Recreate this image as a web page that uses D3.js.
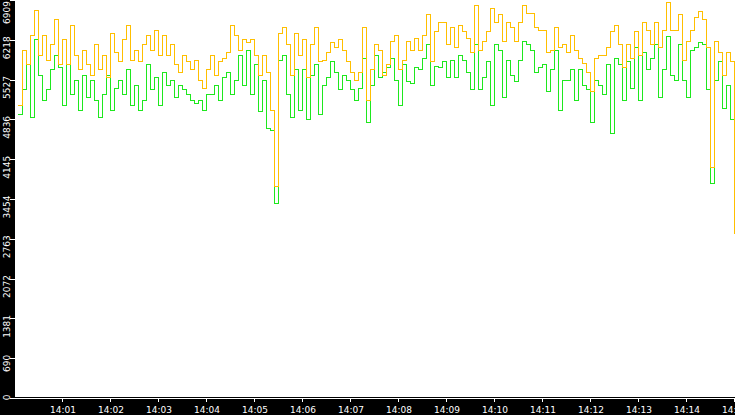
<!DOCTYPE html>
<html>
<head>
<meta charset="utf-8">
<script src="https://cdn.jsdelivr.net/npm/d3@7"></script>
<style>
  html, body { margin: 0; padding: 0; background: #000; overflow: hidden; }
  svg { display: block; }
  .lbl { font-family: "DejaVu Sans", sans-serif; font-size: 9px; fill: #fff; }
</style>
</head>
<body>
<svg id="chart"></svg>
<script>
// samples every 5 s starting 14:00:04
const startTime = '2024-01-01T14:00:04';
const stepSeconds = 5;

const orangeValues = [
  5086, 6041, 5781, 6301, 6735, 5954, 6301, 5867, 6128, 6562,
  5781, 6215, 5781, 6475, 5954, 5694, 6041, 5781, 5607, 6128,
  5694, 5954, 5555, 6336, 6006, 5833, 6215, 6475, 5867, 6041,
  5833, 6128, 6301, 6041, 6388, 5954, 6301, 5954, 6128, 5781,
  5659, 5954, 5833, 5694, 5867, 5520, 5381, 5694, 5954, 5607,
  5833, 5902, 6006, 6475, 6301, 6041, 6215, 6163, 6215, 5954,
  5607, 5954, 5659, 4999, 3663, 6336, 6440, 6128, 5607, 6336,
  5954, 6215, 5555, 6128, 6423, 5833, 5867, 6006, 6163, 6076,
  6215, 6041, 5833, 5659, 5520, 5659, 6423, 5173, 5694, 6128,
  6041, 5607, 5781, 6180, 6301, 5694, 5867, 6180, 6041, 6249,
  6041, 6301, 6649, 5833, 6354, 6527, 6527, 6128, 6423, 6076,
  6475, 6354, 6249, 6006, 6822, 6041, 6180, 6354, 6770, 6527,
  6649, 6180, 6527, 6423, 6180, 6527, 6822, 6666, 6666, 6423,
  6388, 6388, 6006, 6041, 6423, 6076, 6128, 6006, 6301, 6041,
  5902, 5815, 5659, 5312, 5902, 5937, 5954, 6076, 6354, 6475,
  6128, 5729, 6128, 5902, 6354, 5954, 6527, 6388, 6128, 6527,
  6076, 6388, 6874, 6388, 6388, 6649, 5867, 6180, 6388, 6597,
  6701, 6562, 6076, 4010, 6180, 6006, 5607, 6006, 5833, 2847
];

const greenValues = [
  4913, 5347, 5781, 4861, 6215, 5607, 5173, 5347, 5694, 5954,
  5729, 5086, 5781, 5260, 5520, 4999, 5607, 5208, 5520, 5173,
  4861, 5260, 5607, 4999, 5381, 5520, 5260, 5694, 5086, 5433,
  4999, 5173, 5781, 5347, 5555, 5086, 5642, 5433, 5520, 5208,
  5433, 5347, 5260, 5173, 5121, 5173, 4999, 5260, 5260, 5433,
  5173, 5555, 5659, 5260, 5520, 5954, 5433, 6041, 5260, 5781,
  4965, 5520, 4687, 4652, 3385, 5867, 5954, 5260, 4861, 5694,
  4999, 5694, 4826, 5607, 5781, 4913, 5433, 5555, 5833, 5659,
  5347, 5607, 5520, 5347, 5173, 5381, 5902, 4791, 5433, 5954,
  5555, 5659, 5729, 5902, 5520, 5086, 5781, 5486, 5468, 5729,
  5694, 5902, 6128, 5433, 5763, 5729, 5833, 5555, 5867, 5555,
  5954, 5867, 5659, 5347, 6128, 5347, 5555, 5833, 5086, 6128,
  6041, 5208, 5867, 5607, 5486, 5867, 6180, 6145, 6041, 5659,
  5729, 5781, 5312, 5694, 6041, 4999, 5520, 5520, 5694, 5173,
  5694, 5433, 5347, 4791, 5520, 5433, 5260, 5781, 4600, 5902,
  5781, 5173, 5833, 5381, 6076, 5173, 6006, 5694, 5902, 6128,
  5208, 5694, 6267, 5607, 5520, 6128, 5520, 5208, 6041, 6093,
  6163, 6128, 5347, 3732, 5520, 5833, 5034, 5433, 4826, 2951
];

const yTicks = [0, 690, 1381, 2072, 2763, 3454, 4145, 4836, 5527, 6218, 6909];
const yMax = 6909;

const width = 735;
const height = 415;
const margin = { top: 0, right: 0, bottom: 17, left: 15 };
const plotBottom = height - margin.bottom; // 398

const parseTime = d3.isoParse;
const t0 = parseTime(startTime);
const timeAt = i => new Date(t0.getTime() + i * stepSeconds * 1000);

const svg = d3.select('#chart')
  .attr('width', width)
  .attr('height', height);

svg.append('rect')
  .attr('width', width)
  .attr('height', height)
  .attr('fill', '#000');

svg.append('rect')
  .attr('x', margin.left)
  .attr('y', 0)
  .attr('width', width - margin.left)
  .attr('height', plotBottom - 1)
  .attr('fill', '#fff');

const x = d3.scaleTime()
  .domain([parseTime('2024-01-01T14:00:00'), parseTime('2024-01-01T14:15:00')])
  .range([margin.left, width]);

const y = d3.scaleLinear()
  .domain([0, yMax])
  .range([plotBottom, 0]);

svg.append('clipPath')
  .attr('id', 'clip')
  .append('rect')
  .attr('x', margin.left)
  .attr('y', 0)
  .attr('width', width - margin.left)
  .attr('height', plotBottom - 1);

// stepped look, like the pixel-per-sample original
const line = d3.line()
  .x((d, i) => x(timeAt(i)))
  .y(d => y(d))
  .curve(d3.curveStepAfter);

const plot = svg.append('g').attr('clip-path', 'url(#clip)');

plot.append('path')
  .datum(greenValues)
  .attr('fill', 'none')
  .attr('stroke', '#1ee81e')
  .attr('stroke-width', 1)
  .attr('shape-rendering', 'crispEdges')
  .attr('d', line);

plot.append('path')
  .datum(orangeValues)
  .attr('fill', 'none')
  .attr('stroke', '#ffbf00')
  .attr('stroke-width', 1)
  .attr('shape-rendering', 'crispEdges')
  .attr('d', line);

// x axis
svg.append('line')
  .attr('x1', 10).attr('x2', width)
  .attr('y1', plotBottom + 0.5).attr('y2', plotBottom + 0.5)
  .attr('stroke', '#fff');

const xTicks = x.ticks(d3.timeMinute.every(1)).slice(1);

svg.selectAll('.xtick')
  .data(xTicks)
  .join('line')
  .attr('class', 'xtick')
  .attr('x1', d => Math.round(x(d)) - 0.5)
  .attr('x2', d => Math.round(x(d)) - 0.5)
  .attr('y1', plotBottom + 1)
  .attr('y2', plotBottom + 4)
  .attr('stroke', '#fff');

svg.selectAll('.xlabel')
  .data(xTicks)
  .join('text')
  .attr('class', 'lbl xlabel')
  .attr('x', d => x(d))
  .attr('y', height - 2.5)
  .attr('text-anchor', 'middle')
  .text(d3.timeFormat('%H:%M'));

// y axis
svg.selectAll('.ytick')
  .data(yTicks)
  .join('line')
  .attr('class', 'ytick')
  .attr('x1', 10).attr('x2', margin.left)
  .attr('y1', d => Math.round(y(d)) + 0.5)
  .attr('y2', d => Math.round(y(d)) + 0.5)
  .attr('stroke', '#fff');

svg.selectAll('.ylabel')
  .data(yTicks)
  .join('text')
  .attr('class', 'lbl ylabel')
  .attr('text-anchor', 'end')
  .attr('transform', d => `translate(9.5,${Math.max(1, y(d) - 3.5)}) rotate(-90)`)
  .text(d => d);
</script>
</body>
</html>
